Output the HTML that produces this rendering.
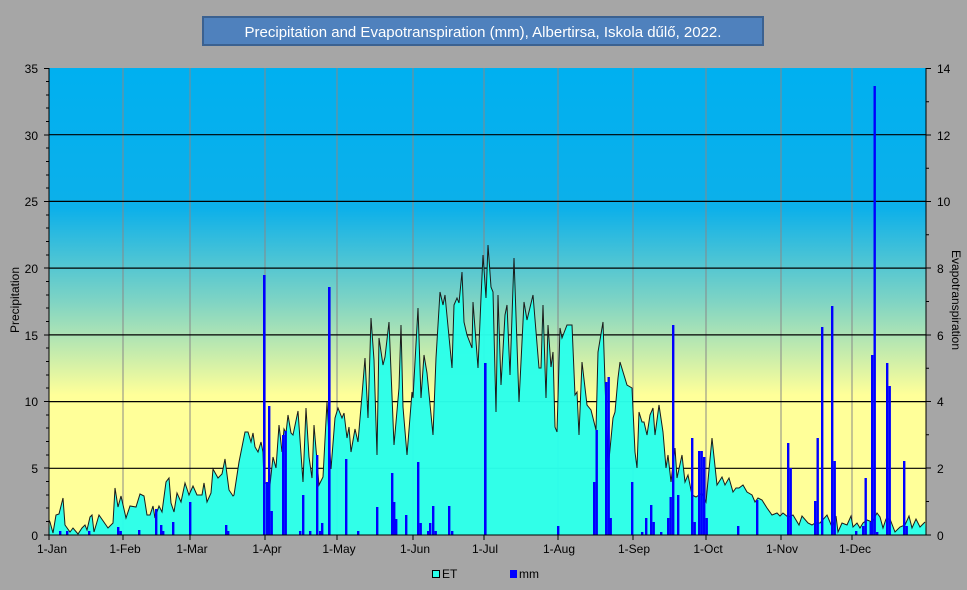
<!DOCTYPE html>
<html><head><meta charset="utf-8"><style>
html,body{margin:0;padding:0;background:#a6a6a6;}
svg{display:block;font-family:"Liberation Sans",sans-serif;}
</style></head><body>
<svg width="967" height="590" viewBox="0 0 967 590" xmlns="http://www.w3.org/2000/svg">
<defs>
<linearGradient id="bg" x1="0" y1="0" x2="0" y2="1">
<stop offset="0" stop-color="#00b0f0"/>
<stop offset="0.3" stop-color="#0cb0ea"/>
<stop offset="0.5" stop-color="#7fd4c4"/>
<stop offset="0.7" stop-color="#ffff99"/>
<stop offset="1" stop-color="#ffff99"/>
</linearGradient>
</defs>
<rect width="967" height="590" fill="#a6a6a6"/>
<rect x="203" y="17" width="560" height="28" fill="#4f81bd" stroke="#3b6190" stroke-width="2"/>
<text x="483" y="37" fill="#fff" font-size="15" text-anchor="middle">Precipitation and Evapotranspiration (mm), Albertirsa, Iskola dűlő, 2022.</text>
<rect x="49" y="68" width="877" height="467" fill="url(#bg)"/>
<g stroke="#888" stroke-width="1">
<line x1="123" y1="68" x2="123" y2="535"/><line x1="190" y1="68" x2="190" y2="535"/><line x1="265" y1="68" x2="265" y2="535"/><line x1="337" y1="68" x2="337" y2="535"/><line x1="413" y1="68" x2="413" y2="535"/><line x1="484" y1="68" x2="484" y2="535"/><line x1="558" y1="68" x2="558" y2="535"/><line x1="633" y1="68" x2="633" y2="535"/><line x1="706" y1="68" x2="706" y2="535"/><line x1="781" y1="68" x2="781" y2="535"/><line x1="852" y1="68" x2="852" y2="535"/>
</g>
<g stroke="#000" stroke-width="1.2">
<line x1="49" y1="468.3" x2="926" y2="468.3"/><line x1="49" y1="401.6" x2="926" y2="401.6"/><line x1="49" y1="334.9" x2="926" y2="334.9"/><line x1="49" y1="268.1" x2="926" y2="268.1"/><line x1="49" y1="201.4" x2="926" y2="201.4"/><line x1="49" y1="134.7" x2="926" y2="134.7"/>
</g>
<polygon fill="#2affea" fill-opacity="0.97" stroke="none" points="49,535 50,522 53,533 56,515 59,514 63,498 65,525 70,532 73,528 78,534 82,528 85,525 87,530 90,517 92,515 94,532 99,515 108,528 113,523 115,488 118,507 121,496 126,518 130,506 136,507 140,494 144,496 147,515 150,515 153,506 155,518 159,506 162,512 166,482 169,478 171,503 174,512 177,493 181,502 185,483 189,495 193,486 197,495 202,495 204,483 207,502 211,493 213,469 218,478 222,474 225,459 229,490 233,496 234,495 239,462 245,432 248,432 251,442 253,433 255,447 258,452 261,442 263,452 264,483 267,483 268,503 273,457 276,468 279,425 282,452 284,429 286,433 288,415 291,433 293,435 298,411 302,468 303,482 306,408 309,457 312,478 314,425 319,485 323,477 327,402 331,469 335,418 338,408 342,418 344,413 347,438 349,427 351,452 355,429 358,442 362,395 365,358 368,418 371,318 374,360 377,455 379,338 383,365 385,357 389,322 394,445 399,388 401,325 403,407 407,455 412,392 413,398 418,308 421,398 424,355 427,373 433,435 436,358 440,292 443,305 445,295 452,368 454,305 457,298 459,303 462,272 464,322 467,335 472,348 473,302 478,368 481,298 483,255 486,298 488,245 491,287 493,292 496,412 498,295 501,385 505,315 507,305 510,375 514,258 519,402 524,302 527,320 533,295 539,368 541,368 543,305 546,398 548,325 551,367 553,352 555,427 557,432 560,328 562,338 567,325 572,325 575,395 577,392 579,435 582,362 587,405 591,410 596,430 598,352 603,322 608,470 613,418 615,412 618,378 620,362 627,385 632,388 635,452 637,468 639,412 642,422 644,422 647,435 650,415 653,408 655,435 659,405 663,432 666,468 668,455 671,482 675,448 677,478 682,455 685,482 688,475 692,495 696,497 702,493 706,502 712,438 717,485 722,477 725,485 729,478 733,492 736,488 739,488 743,485 747,492 752,495 755,502 758,498 762,500 767,508 772,515 777,513 780,516 783,513 788,517 793,515 799,525 802,516 808,523 812,525 815,523 820,523 827,515 832,527 836,516 838,532 842,523 847,525 851,516 853,527 857,523 860,528 863,523 867,520 872,522 877,513 880,517 883,528 886,519 890,519 895,532 900,527 905,525 909,516 912,528 916,519 920,527 925,522 926,535"/>
<polyline fill="none" stroke="#1a1a1a" stroke-width="1" points="49,520 50,522 53,533 56,515 59,514 63,498 65,525 70,532 73,528 78,534 82,528 85,525 87,530 90,517 92,515 94,532 99,515 108,528 113,523 115,488 118,507 121,496 126,518 130,506 136,507 140,494 144,496 147,515 150,515 153,506 155,518 159,506 162,512 166,482 169,478 171,503 174,512 177,493 181,502 185,483 189,495 193,486 197,495 202,495 204,483 207,502 211,493 213,469 218,478 222,474 225,459 229,490 233,496 234,495 239,462 245,432 248,432 251,442 253,433 255,447 258,452 261,442 263,452 264,483 267,483 268,503 273,457 276,468 279,425 282,452 284,429 286,433 288,415 291,433 293,435 298,411 302,468 303,482 306,408 309,457 312,478 314,425 319,485 323,477 327,402 331,469 335,418 338,408 342,418 344,413 347,438 349,427 351,452 355,429 358,442 362,395 365,358 368,418 371,318 374,360 377,455 379,338 383,365 385,357 389,322 394,445 399,388 401,325 403,407 407,455 412,392 413,398 418,308 421,398 424,355 427,373 433,435 436,358 440,292 443,305 445,295 452,368 454,305 457,298 459,303 462,272 464,322 467,335 472,348 473,302 478,368 481,298 483,255 486,298 488,245 491,287 493,292 496,412 498,295 501,385 505,315 507,305 510,375 514,258 519,402 524,302 527,320 533,295 539,368 541,368 543,305 546,398 548,325 551,367 553,352 555,427 557,432 560,328 562,338 567,325 572,325 575,395 577,392 579,435 582,362 587,405 591,410 596,430 598,352 603,322 608,470 613,418 615,412 618,378 620,362 627,385 632,388 635,452 637,468 639,412 642,422 644,422 647,435 650,415 653,408 655,435 659,405 663,432 666,468 668,455 671,482 675,448 677,478 682,455 685,482 688,475 692,495 696,497 702,493 706,502 712,438 717,485 722,477 725,485 729,478 733,492 736,488 739,488 743,485 747,492 752,495 755,502 758,498 762,500 767,508 772,515 777,513 780,516 783,513 788,517 793,515 799,525 802,516 808,523 812,525 815,523 820,523 827,515 832,527 836,516 838,532 842,523 847,525 851,516 853,527 857,523 860,528 863,523 867,520 872,522 877,513 880,517 883,528 886,519 890,519 895,532 900,527 905,525 909,516 912,528 916,519 920,527 925,522"/>
<g fill="#0000ff">
<rect x="59" y="531" width="2.4" height="4"/><rect x="66" y="531" width="2.4" height="4"/><rect x="88" y="531" width="2.4" height="4"/><rect x="117" y="527" width="2.4" height="8"/><rect x="119.5" y="531" width="2.4" height="4"/><rect x="138" y="530" width="2.4" height="5"/><rect x="155" y="509" width="2.4" height="26"/><rect x="160" y="525" width="2.4" height="10"/><rect x="162" y="531" width="2.4" height="4"/><rect x="172" y="522" width="2.4" height="13"/><rect x="189" y="502" width="2.4" height="33"/><rect x="225" y="525" width="2.4" height="10"/><rect x="227" y="531" width="2.4" height="4"/>
<rect x="263" y="275" width="2.6" height="260"/><rect x="266" y="482" width="2.4" height="53"/><rect x="268" y="406" width="2.4" height="129"/><rect x="270.5" y="511" width="2.4" height="24"/><rect x="282" y="435" width="2.4" height="100"/><rect x="284.5" y="431" width="2.4" height="104"/><rect x="299" y="531" width="2.4" height="4"/><rect x="302" y="495" width="2.4" height="40"/><rect x="309" y="531" width="2.4" height="4"/><rect x="316" y="455" width="2.4" height="80"/><rect x="319" y="531" width="2.4" height="4"/><rect x="321" y="523" width="2.4" height="12"/><rect x="328" y="287" width="2.6" height="248"/><rect x="345" y="459" width="2.4" height="76"/><rect x="357" y="531" width="2.4" height="4"/><rect x="376" y="507" width="2.4" height="28"/><rect x="391" y="473" width="2.4" height="62"/><rect x="393" y="502" width="2.4" height="33"/><rect x="395" y="519" width="2.4" height="16"/><rect x="405" y="515" width="2.4" height="20"/><rect x="417" y="462" width="2.4" height="73"/><rect x="419.5" y="523" width="2.4" height="12"/><rect x="427" y="531" width="2.4" height="4"/><rect x="429" y="523" width="2.4" height="12"/><rect x="432" y="506" width="2.4" height="29"/><rect x="434.5" y="531" width="2.4" height="4"/><rect x="448" y="506" width="2.4" height="29"/><rect x="451" y="531" width="2.4" height="4"/>
<rect x="484" y="363" width="2.6" height="172"/><rect x="557" y="526" width="2.4" height="9"/><rect x="593" y="482" width="2.4" height="53"/><rect x="595.5" y="430" width="2.4" height="105"/><rect x="605" y="382" width="2.4" height="153"/><rect x="607.5" y="377" width="2.4" height="158"/><rect x="609.5" y="518" width="2.4" height="17"/><rect x="631" y="482" width="2.4" height="53"/><rect x="641" y="532" width="2.4" height="3"/><rect x="645" y="518" width="2.4" height="17"/><rect x="650" y="505" width="2.4" height="30"/><rect x="652.5" y="522" width="2.4" height="13"/><rect x="660" y="532" width="2.4" height="3"/><rect x="667" y="518" width="2.4" height="17"/><rect x="669.5" y="497" width="2.4" height="38"/><rect x="672" y="325" width="2.4" height="210"/><rect x="677" y="495" width="2.4" height="40"/><rect x="691" y="438" width="2.4" height="97"/><rect x="693.5" y="522" width="2.4" height="13"/><rect x="698" y="451" width="2.4" height="84"/><rect x="700.5" y="451" width="2.4" height="84"/><rect x="703" y="457" width="2.4" height="78"/><rect x="705.5" y="518" width="2.4" height="17"/><rect x="737" y="526" width="2.4" height="9"/><rect x="756" y="500" width="2.4" height="35"/><rect x="787" y="443" width="2.4" height="92"/><rect x="789.5" y="468" width="2.4" height="67"/><rect x="814" y="501" width="2.4" height="34"/><rect x="816.5" y="438" width="2.4" height="97"/><rect x="821" y="327" width="2.4" height="208"/><rect x="831" y="306" width="2.4" height="229"/><rect x="833.5" y="461" width="2.4" height="74"/><rect x="855" y="531" width="2.4" height="4"/><rect x="862" y="526" width="2.4" height="9"/><rect x="864.5" y="478" width="2.4" height="57"/><rect x="869.5" y="522" width="2.4" height="13"/><rect x="871" y="355" width="2.4" height="180"/><rect x="873.5" y="86" width="2.4" height="449"/><rect x="876" y="532" width="2.4" height="3"/><rect x="886" y="363" width="2.4" height="172"/><rect x="888.5" y="386" width="2.4" height="149"/><rect x="903" y="461" width="2.4" height="74"/><rect x="905.5" y="526" width="2.4" height="9"/>
</g>
<g stroke="#000" stroke-width="1">
<line x1="49" y1="68" x2="49" y2="535"/><line x1="926" y1="68" x2="926" y2="535"/><line x1="49" y1="535" x2="926" y2="535"/>
</g>
<g stroke="#000" stroke-width="1" id="lt">
<path d="M44 68.5h5M44 135h5M44 201.5h5M44 268h5M44 335h5M44 401.5h5M44 468h5M44 535h5"/>
<path d="M46 81.5h3M46 95h3M46 108h3M46 121.5h3M46 148h3M46 161.5h3M46 175h3M46 188h3M46 215h3M46 228h3M46 241.5h3M46 255h3M46 281.5h3M46 295h3M46 308h3M46 321.5h3M46 348h3M46 361.5h3M46 375h3M46 388h3M46 415h3M46 428h3M46 441.5h3M46 455h3M46 481.5h3M46 495h3M46 508h3M46 521.5h3"/>
<path d="M926 68.5h5M926 135h5M926 201.5h5M926 268h5M926 335h5M926 401.5h5M926 468h5M926 535h5"/>
<path d="M926 101.8h3M926 168.2h3M926 234.8h3M926 301.5h3M926 368.2h3M926 434.8h3M926 501.5h3"/>
<path d="M49 535v5M123 535v5M190 535v5M265 535v5M337 535v5M413 535v5M484 535v5M558 535v5M633 535v5M706 535v5M781 535v5M852 535v5"/>
</g>
<g font-size="12" fill="#000" text-anchor="end">
<text x="38" y="73">35</text><text x="38" y="140">30</text><text x="38" y="206">25</text><text x="38" y="273">20</text><text x="38" y="340">15</text><text x="38" y="406">10</text><text x="38" y="473">5</text><text x="38" y="540">0</text>
</g>
<g font-size="12" fill="#000">
<text x="937" y="73">14</text><text x="937" y="140">12</text><text x="937" y="206">10</text><text x="937" y="273">8</text><text x="937" y="340">6</text><text x="937" y="406">4</text><text x="937" y="473">2</text><text x="937" y="540">0</text>
</g>
<g font-size="12" fill="#000" text-anchor="middle">
<text x="52" y="553">1-Jan</text><text x="125" y="553">1-Feb</text><text x="192" y="553">1-Mar</text><text x="267" y="553">1-Apr</text><text x="339" y="553">1-May</text><text x="415" y="553">1-Jun</text><text x="485" y="553">1-Jul</text><text x="559" y="553">1-Aug</text><text x="634" y="553">1-Sep</text><text x="708" y="553">1-Oct</text><text x="782" y="553">1-Nov</text><text x="855" y="553">1-Dec</text>
</g>
<text transform="translate(19,300) rotate(-90)" font-size="12" text-anchor="middle" fill="#000">Precipitation</text>
<text transform="translate(952,300) rotate(90)" font-size="12" text-anchor="middle" fill="#000">Evapotranspiration</text>
<rect x="432.5" y="570.5" width="7" height="7" fill="#2affea" stroke="#000" stroke-width="1"/>
<text x="442" y="578" font-size="12" fill="#000">ET</text>
<rect x="510" y="570" width="7" height="8" fill="#0000ff"/>
<text x="519" y="578" font-size="12" fill="#000">mm</text>
</svg>
</body></html>
